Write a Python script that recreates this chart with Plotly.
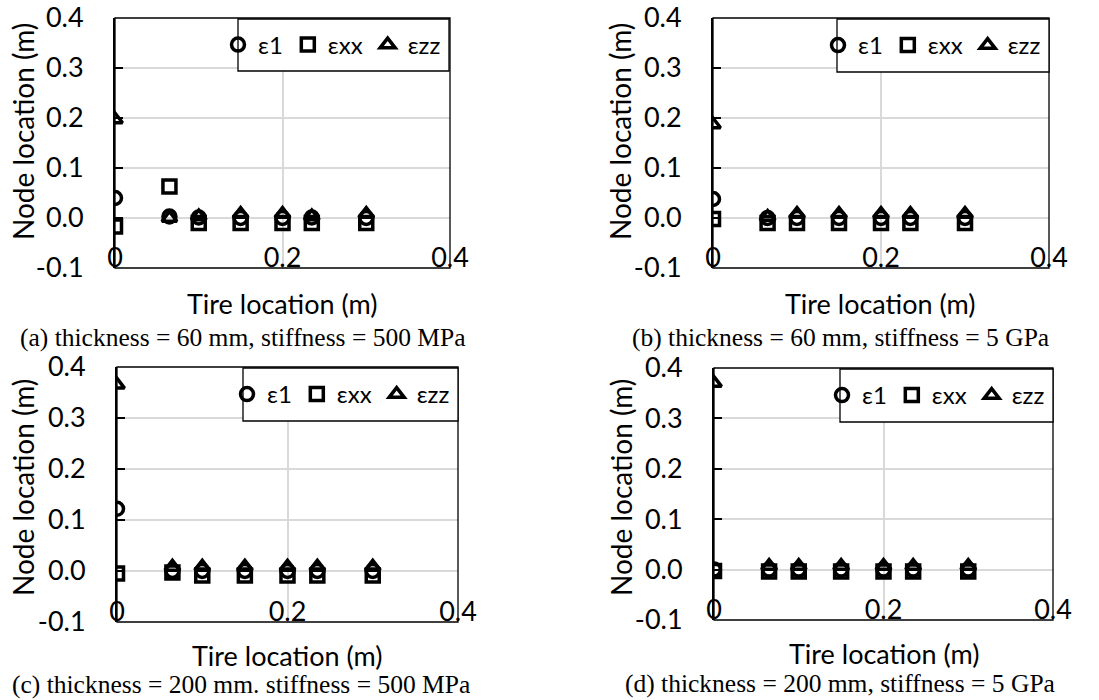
import plotly.graph_objects as go

W, H = 1099, 700

# ---------------- data ----------------
tire_x = [0, 0.065, 0.1, 0.15, 0.2, 0.235, 0.3]
series_names = ["ε1", "εxx", "εzz"]

# (a) thickness = 60 mm, stiffness = 500 MPa
e1_a = [0.040, 0.003, 0.001, 0.000, 0.000, 0.001, 0.000]
exx_a = [-0.017, 0.063, -0.010, -0.010, -0.010, -0.010, -0.010]
ezz_a = [0.197, 0.000, 0.003, 0.008, 0.008, 0.003, 0.008]

# (b) thickness = 60 mm, stiffness = 5 GPa
e1_b = [0.038, 0.000, 0.000, 0.000, 0.000, 0.000, 0.000]
exx_b = [-0.002, -0.010, -0.010, -0.010, -0.010, -0.010, -0.010]
ezz_b = [0.187, 0.002, 0.008, 0.008, 0.008, 0.008, 0.008]

# (c) thickness = 200 mm, stiffness = 500 MPa
e1_c = [0.122, 0.000, 0.000, 0.000, 0.000, 0.000, 0.000]
exx_c = [-0.005, -0.003, -0.009, -0.009, -0.009, -0.009, -0.009]
ezz_c = [0.365, 0.008, 0.008, 0.008, 0.008, 0.008, 0.008]

# (d) thickness = 200 mm, stiffness = 5 GPa
e1_d = [0.000, 0.000, 0.000, 0.000, 0.000, 0.000, 0.000]
exx_d = [-0.003, -0.004, -0.004, -0.004, -0.004, -0.004, -0.004]
ezz_d = [0.370, 0.007, 0.007, 0.007, 0.007, 0.007, 0.007]

captions = [
    "(a) thickness = 60 mm, stiffness = 500 MPa",
    "(b) thickness = 60 mm, stiffness = 5 GPa",
    "(c) thickness = 200 mm. stiffness = 500 MPa",
    "(d) thickness = 200 mm, stiffness = 5 GPa",
]
x_title = "Tire location (m)"
y_title = "Node location (m)"
x_tickvals = [0, 0.2, 0.4]
x_ticktext = ["0", "0.2", "0.4"]
y_tickvals = [-0.1, 0.0, 0.1, 0.2, 0.3, 0.4]
y_ticktext = ["-0.1", "0.0", "0.1", "0.2", "0.3", "0.4"]

# ---------------- layout helpers ----------------
def fx(p):
    return p / W

def fy(p):
    return 1 - p / H

panels = [
    dict(data=(e1_a, exx_a, ezz_a), dx=(115, 450), dy=(18, 268), box=(238, 19, 449, 71),
         ytl=(23, 132), xtl=(282, 303), cap=(242, 337)),
    dict(data=(e1_b, exx_b, ezz_b), dx=(713, 1049), dy=(18, 268), box=(837, 19, 1049, 72),
         ytl=(620, 132), xtl=(880, 303), cap=(840, 337)),
    dict(data=(e1_c, exx_c, ezz_c), dx=(117, 458), dy=(367, 622), box=(243, 368, 458, 421),
         ytl=(23, 488), xtl=(287, 655), cap=(241, 684)),
    dict(data=(e1_d, exx_d, ezz_d), dx=(714, 1053), dy=(368, 620), box=(840, 369, 1053, 422),
         ytl=(621, 488), xtl=(884, 653), cap=(840, 683)),
]

symbols = ["circle-open", "square-open", "triangle-up-open"]
FONT = "Lato, Carlito, Calibri, sans-serif"
SERIF = "Liberation Serif, Times New Roman, serif"

fig = go.Figure()
layout = dict(
    width=W, height=H, margin=dict(l=0, r=0, t=0, b=0, autoexpand=False),
    paper_bgcolor="white", plot_bgcolor="white",
    font=dict(family=FONT, size=27, color="black"),
    showlegend=True, shapes=[], annotations=[],
)

for i, p in enumerate(panels):
    n = "" if i == 0 else str(i + 1)
    xa, ya = "x" + n, "y" + n
    leg = "legend" + n
    for s, (name, vals) in enumerate(zip(series_names, p["data"])):
        fig.add_trace(go.Scatter(
            x=tire_x, y=vals, mode="markers", name=name,
            xaxis=xa, yaxis=ya, legend=leg,
            marker=dict(symbol=symbols[s], size=13, color="black",
                        line=dict(color="black", width=3.5)),
        ))
    layout["xaxis" + n] = dict(
        domain=[fx(p["dx"][0]), fx(p["dx"][1])], anchor=ya, automargin=False,
        range=[0, 0.4], tickvals=x_tickvals, ticktext=x_ticktext,
        ticks="", ticklabelposition="inside", ticklabeloverflow="allow",
        ticklabelstandoff=-7,
        showgrid=True, gridcolor="#d9d9d9", gridwidth=1.5, zeroline=False,
        showline=False, tickfont=dict(size=27, color="black"), fixedrange=True,
    )
    layout["yaxis" + n] = dict(
        domain=[fy(p["dy"][1]), fy(p["dy"][0])], anchor=xa, automargin=False,
        range=[-0.1, 0.4], tickvals=y_tickvals, ticktext=y_ticktext,
        ticks="inside", ticklen=8, tickwidth=2, tickcolor="black",
        ticklabelstandoff=24, ticklabeloverflow="allow",
        showgrid=True, gridcolor="#d9d9d9", gridwidth=1.5, zeroline=False,
        showline=True, linecolor="black", linewidth=2,
        tickfont=dict(size=27, color="black"), fixedrange=True,
    )
    # plot frame
    layout["shapes"].append(dict(
        type="rect", xref=xa + " domain", yref=ya + " domain",
        x0=0, x1=1, y0=0, y1=1, line=dict(color="black", width=1.3), layer="above",
    ))
    # legend box
    bx0, by0, bx1, by1 = p["box"]
    layout["shapes"].append(dict(
        type="rect", xref="paper", yref="paper",
        x0=fx(bx0), x1=fx(bx1), y0=fy(by1), y1=fy(by0),
        line=dict(color="black", width=1.3), fillcolor="white", layer="above",
    ))
    layout[leg] = dict(
        orientation="h", x=fx(bx1 - 3), xanchor="right",
        y=fy((by0 + by1) / 2), yanchor="middle",
        bgcolor="rgba(0,0,0,0)", borderwidth=0,
        font=dict(family=FONT, size=24, color="black"),
        itemclick=False, itemdoubleclick=False,
    )
    # axis titles and caption
    layout["annotations"].append(dict(
        text=y_title, xref="paper", yref="paper", x=fx(p["ytl"][0]), y=fy(p["ytl"][1]),
        xanchor="center", yanchor="middle", textangle=-90, showarrow=False,
        font=dict(family=FONT, size=28),
    ))
    layout["annotations"].append(dict(
        text=x_title, xref="paper", yref="paper", x=fx(p["xtl"][0]), y=fy(p["xtl"][1]),
        xanchor="center", yanchor="middle", showarrow=False,
        font=dict(family=FONT, size=27),
    ))
    layout["annotations"].append(dict(
        text=captions[i], xref="paper", yref="paper", x=fx(p["cap"][0]), y=fy(p["cap"][1]),
        xanchor="center", yanchor="middle", showarrow=False,
        font=dict(family=SERIF, size=25.5),
    ))

fig.update_layout(**layout)
# remove the default 8px page margin so the 1099x700 figure fills the window exactly
fig.write_html("out.html", config={"displayModeBar": False},
               post_script="document.body.style.margin='0';")
